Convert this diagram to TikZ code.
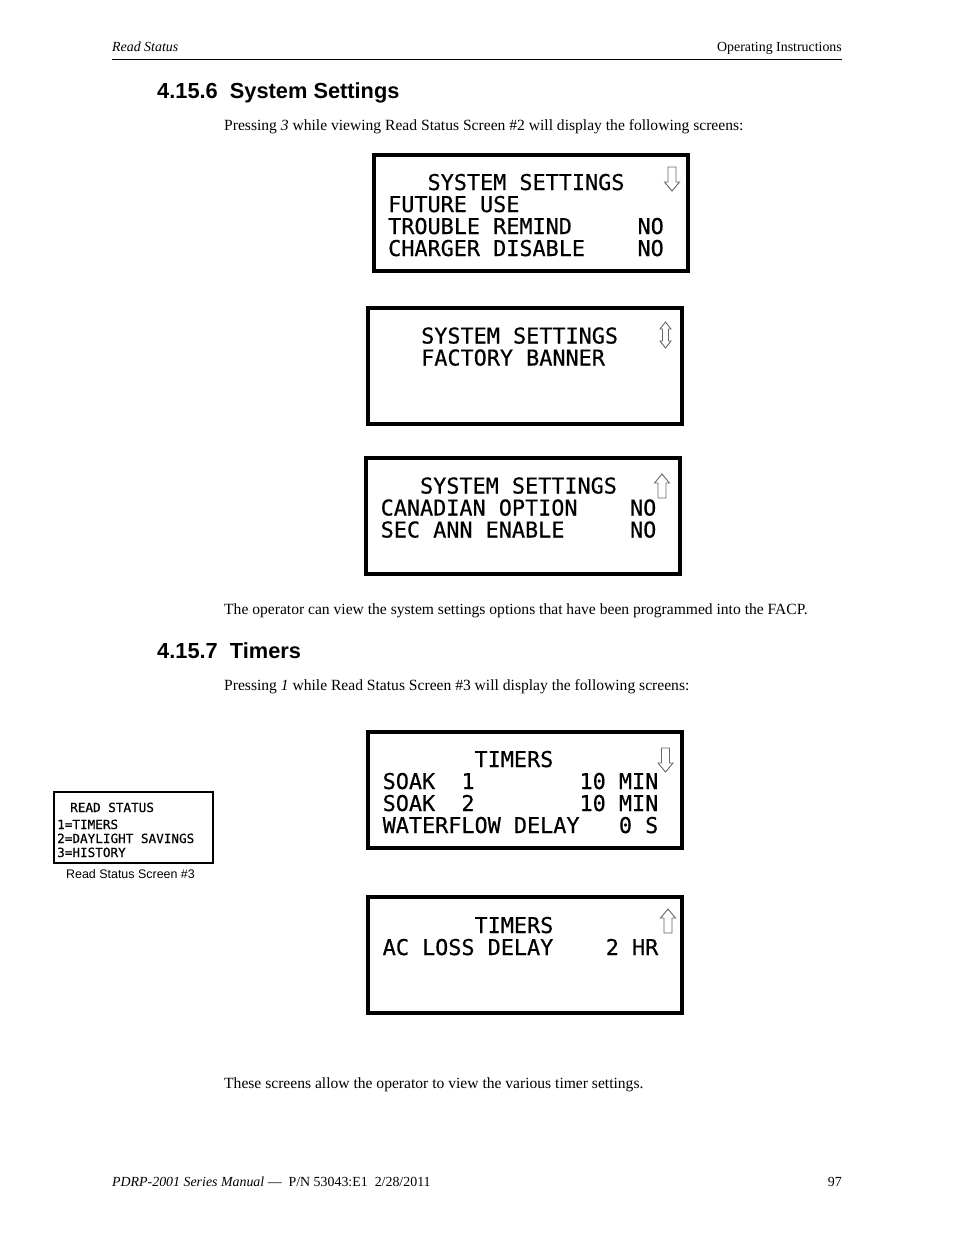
\documentclass[tikz,border=0pt]{standalone}
\usepackage{fontspec}
\setmainfont{Liberation Serif}
\newfontfamily\headfont{Liberation Sans}
\newfontfamily\lcdfont[FakeBold=0.5]{DejaVu Sans Mono}

\tikzset{
	lcdframe/.style={draw, line width=4.5pt, minimum width=314pt, minimum height=116pt, inner sep=0pt},
	lcdtext/.style={anchor=base west, align=left, inner sep=0pt, font=\fontsize{21.8pt}{22pt}\selectfont\lcdfont},
	smalltext/.style={anchor=base west, align=left, inner sep=0pt, font=\fontsize{12.65pt}{14pt}\selectfont\lcdfont},
	bodytext/.style={anchor=base west, inner sep=0pt, font=\fontsize{15.58pt}{17pt}\selectfont},
	headtext/.style={anchor=base west, inner sep=0pt, font=\fontsize{21.8pt}{24pt}\selectfont\headfont\bfseries},
	smallhead/.style={inner sep=0pt, font=\fontsize{13.9pt}{15pt}\selectfont},
	lcdarrow/.style={draw=black!60, line width=0.9pt, fill=white},
	arrowdown/.pic={\path[lcdarrow] (-4,-12) -- (4,-12) -- (4,3) -- (7.5,3) -- (0,12) -- (-7.5,3) -- (-4,3) -- cycle;},
	arrowup/.pic={\path[lcdarrow] (-4,12) -- (4,12) -- (4,-3) -- (7.5,-3) -- (0,-12) -- (-7.5,-3) -- (-4,-3) -- cycle;},
	arrowboth/.pic={\path[lcdarrow] (0,-13) -- (5.5,-6) -- (3,-6) -- (3,6) -- (5.5,6) -- (0,13) -- (-5.5,6) -- (-3,6) -- (-3,-6) -- (-5.5,-6) -- cycle;}
}

\begin{document}
\begin{tikzpicture}[x=1pt, y=-1pt]
	\useasboundingbox (0,0) rectangle (954,1235);

	% page header
	\node [smallhead, anchor=base west, font=\fontsize{13.9pt}{15pt}\selectfont\itshape] (chapter) at (112,51) {Read Status};
	\node [smallhead, anchor=base east] (section) at (842,51) {Operating Instructions};
	\coordinate (ruleleft) at (112,59.5);
	\coordinate (ruleright) at (842,59.5);
	\draw [line width=0.8pt] (ruleleft) -- (ruleright);

	% system settings
	\node [headtext] (headsettings) at (157,98.5) {4.15.6\ \ System Settings};
	\node [bodytext] (introsettings) at (224,130) {Pressing \textit{3} while viewing Read Status Screen \#2 will display the following screens:};

	\node [lcdframe] (settingsa) at (531,213) {};
	\node [lcdtext] (settingsatext) at (388,256) {\ \ \ SYSTEM SETTINGS\\FUTURE USE\\TROUBLE REMIND\ \ \ \ \ NO\\CHARGER DISABLE\ \ \ \ NO};
	\pic at (672,179) {arrowdown};

	\node [lcdframe] (settingsb) at (525,366) {};
	\node [lcdtext] (settingsbtext) at (421,365.5) {SYSTEM SETTINGS\\FACTORY BANNER};
	\pic at (665.5,335) {arrowboth};

	\node [lcdframe] (settingsc) at (523,516) {};
	\node [lcdtext] (settingsctext) at (380.5,537.5) {\ \ \ SYSTEM SETTINGS\\CANADIAN OPTION\ \ \ \ NO\\SEC ANN ENABLE\ \ \ \ \ NO};
	\pic at (662,486) {arrowup};

	\node [bodytext] (outrosettings) at (224,614) {The operator can view the system settings options that have been programmed into the FACP.};

	% timers
	\node [headtext] (headtimers) at (157,658.5) {4.15.7\ \ Timers};
	\node [bodytext] (introtimers) at (224,690) {Pressing \textit{1} while Read Status Screen \#3 will display the following screens:};

	\node [lcdframe] (timersa) at (525,790) {};
	\node [lcdtext] (timersatext) at (382.5,833) {\ \ \ \ \ \ \ TIMERS\\SOAK\ \ 1\ \ \ \ \ \ \ \ 10 MIN\\SOAK\ \ 2\ \ \ \ \ \ \ \ 10 MIN\\WATERFLOW DELAY\ \ \ 0 S};
	\pic at (665.5,760) {arrowdown};

	\node [lcdframe] (timersb) at (525,955) {};
	\node [lcdtext] (timersbtext) at (382.5,955) {\ \ \ \ \ \ \ TIMERS\\AC LOSS DELAY\ \ \ \ 2 HR};
	\pic at (668,921) {arrowup};

	\node [draw, line width=1.5pt, minimum width=159pt, minimum height=71pt, inner sep=0pt] (statusscreen) at (133.5,827.5) {};
	\node [smalltext] (statustext) at (57,857) {\hspace{13pt}READ STATUS\\[3pt]1=TIMERS\\2=DAYLIGHT SAVINGS\\3=HISTORY};
	\node [inner sep=0pt, anchor=base, font=\fontsize{12.45pt}{14pt}\selectfont\headfont] (statuslabel) at (130.5,878) {Read Status Screen \#3};

	\node [bodytext] (outrotimers) at (224,1088) {These screens allow the operator to view the various timer settings.};

	% page footer
	\node [smallhead, anchor=base west] (manual) at (112,1186) {\textit{PDRP-2001 Series Manual} ---\ \ P/N 53043:E1\hspace{7pt}2/28/2011};
	\node [smallhead, anchor=base east] (pagenumber) at (842,1186) {97};
\end{tikzpicture}
\end{document}
